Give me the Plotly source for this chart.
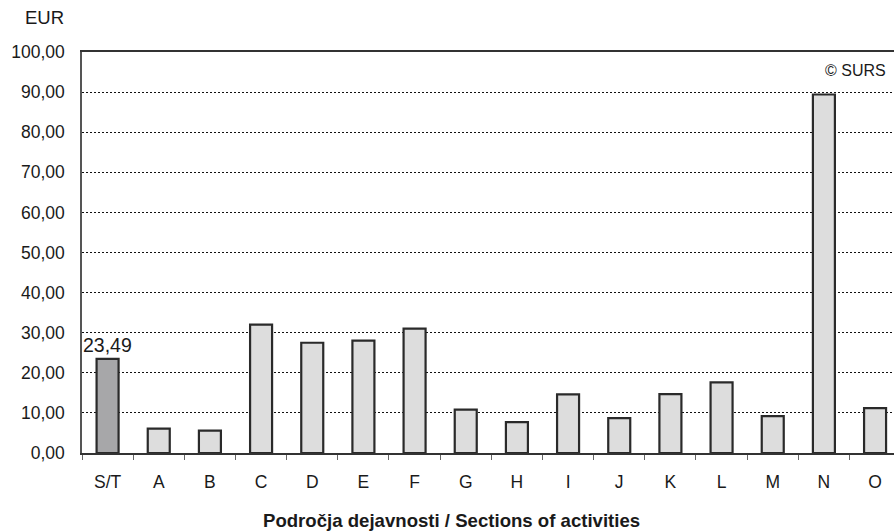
import plotly.graph_objects as go

categories = ["S/T", "A", "B", "C", "D", "E", "F", "G", "H", "I", "J", "K", "L", "M", "N", "O"]
values = [23.49, 6.1, 5.6, 32.0, 27.5, 28.0, 31.0, 10.8, 7.7, 14.6, 8.7, 14.7, 17.6, 9.2, 89.4, 11.2]
y_ticks = [0, 10, 20, 30, 40, 50, 60, 70, 80, 90, 100]
y_tick_labels = ["0,00", "10,00", "20,00", "30,00", "40,00", "50,00", "60,00", "70,00", "80,00", "90,00", "100,00"]
highlight_label = "23,49"

colors = ["#a7a7a9"] + ["#dddddd"] * (len(categories) - 1)

W, H = 894, 531
L, R, T, B = 82, 0, 52, 78
PW, PH = W - L - R, H - T - B


def px_x(x):
    return (x - L) / PW


def px_y(y):
    return 1 - (y - T) / PH


fig = go.Figure()
fig.add_trace(go.Bar(
    x=categories, y=values,
    marker=dict(color=colors, line=dict(color="#2a2a2a", width=2.2)),
    width=0.43, hoverinfo="skip",
))

font = "Liberation Sans, Arial, sans-serif"
fig.update_layout(
    width=W, height=H,
    margin=dict(l=L, r=R, t=T, b=B, autoexpand=False),
    paper_bgcolor="white", plot_bgcolor="white",
    showlegend=False,
    font=dict(family=font, size=18, color="#1a1a1a"),
    xaxis=dict(
        type="category", range=[-0.5, 15.37], automargin=False,
        categoryorder="array", categoryarray=categories,
        showline=True, linecolor="#333333", linewidth=1.5, mirror=True,
        ticks="outside", ticklen=5, tickcolor="#666666", tickson="boundaries",
        showgrid=False, zeroline=False,
        tickfont=dict(size=17.5, color="#1a1a1a"),
        ticklabelstandoff=12,
    ),
    yaxis=dict(
        range=[0, 100], automargin=False,
        tickmode="array", tickvals=y_ticks, ticktext=y_tick_labels,
        showline=True, linecolor="#555555", linewidth=1.5,
        ticks="", showgrid=True, gridcolor="#111111", griddash="2px,2px", gridwidth=1.2,
        zeroline=False,
        tickfont=dict(size=17.5, color="#1a1a1a"),
        ticklabelstandoff=12,
    ),
    annotations=[
        dict(x=0, y=values[0], xref="x", yref="y", text=highlight_label,
             showarrow=False, yanchor="bottom", yshift=1,
             font=dict(size=19.5, color="#1a1a1a")),
        dict(x=px_x(888), y=px_y(70), xref="paper", yref="paper", text="© SURS",
             showarrow=False, xanchor="right", yanchor="middle",
             font=dict(size=16, color="#1a1a1a")),
        dict(x=px_x(44), y=px_y(18), xref="paper", yref="paper", text="EUR",
             showarrow=False, xanchor="center", yanchor="middle",
             font=dict(size=18.5, color="#1a1a1a")),
        dict(x=px_x(451), y=px_y(520), xref="paper", yref="paper",
             text="<b>Področja dejavnosti / Sections of activities</b>",
             showarrow=False, xanchor="center", yanchor="middle",
             font=dict(size=18.6, color="#1a1a1a")),
    ],
)

fig.write_html("out.html", config={"displayModeBar": False},
               post_script="document.body.style.margin='0';document.body.style.overflow='hidden';")
